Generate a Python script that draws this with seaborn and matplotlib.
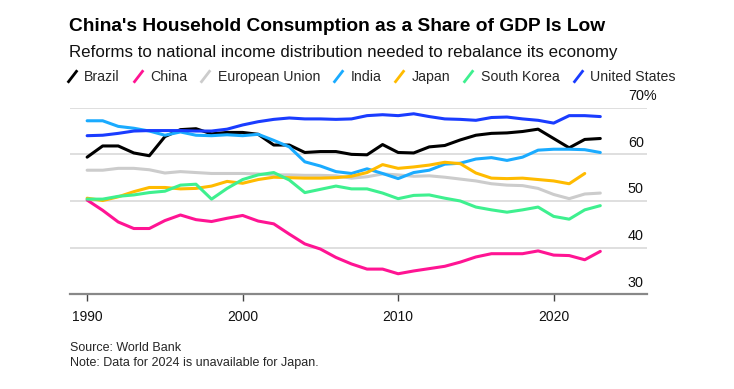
import matplotlib
matplotlib.use("Agg")
import matplotlib.pyplot as plt
import matplotlib.transforms as mtransforms
from matplotlib.lines import Line2D
import numpy as np
import pandas as pd
import seaborn as sns

# Household consumption, % of GDP
years = list(range(1990, 2024))

brazil = [59.4, 61.8, 61.8, 60.3, 59.7, 63.8, 65.3, 65.5, 64.4, 64.7,
          64.7, 64.3, 62.0, 62.0, 60.4, 60.6, 60.6, 60.0, 59.9, 62.1,
          60.4, 60.3, 61.6, 61.9, 63.1, 64.1, 64.5, 64.6, 64.9, 65.4,
          63.4, 61.4, 63.2, 63.4]
china = [50.2, 48.0, 45.5, 44.1, 44.1, 45.8, 47.0, 46.0, 45.6, 46.3,
         46.9, 45.7, 45.1, 42.9, 40.8, 39.7, 37.9, 36.5, 35.4, 35.4,
         34.4, 35.0, 35.5, 36.0, 36.9, 38.0, 38.7, 38.7, 38.7, 39.3,
         38.4, 38.3, 37.4, 39.2]
eu = [56.6, 56.6, 57.0, 57.0, 56.7, 56.0, 56.3, 56.1, 55.9, 55.9,
      55.9, 55.8, 55.6, 55.6, 55.5, 55.5, 55.4, 54.9, 55.2, 55.8,
      55.6, 55.3, 55.4, 55.1, 54.7, 54.3, 53.7, 53.4, 53.3, 52.7,
      51.4, 50.5, 51.5, 51.7]
india = [67.2, 67.2, 66.0, 65.6, 65.0, 64.1, 64.8, 64.1, 64.0, 64.2,
         64.0, 64.3, 63.0, 61.6, 58.4, 57.5, 56.3, 55.9, 56.9, 55.9,
         54.8, 56.1, 56.6, 57.9, 58.1, 59.0, 59.3, 58.7, 59.4, 60.9,
         61.1, 61.1, 61.0, 60.4]
japan = [50.6, 50.1, 50.9, 52.0, 52.9, 52.9, 52.6, 52.7, 53.2, 54.2,
         53.8, 54.6, 55.1, 55.0, 54.9, 54.9, 55.0, 55.3, 56.1, 57.8,
         57.0, 57.3, 57.7, 58.3, 58.0, 56.0, 54.9, 54.8, 54.9, 54.6,
         54.3, 53.7, 55.9, np.nan]
south_korea = [50.4, 50.4, 51.0, 51.3, 51.8, 52.1, 53.4, 53.6, 50.4, 52.7,
               54.6, 55.6, 56.1, 54.5, 51.8, 52.5, 53.2, 52.6, 52.6, 51.7,
               50.5, 51.2, 51.3, 50.6, 50.0, 48.7, 48.1, 47.6, 48.1, 48.7,
               46.7, 46.1, 48.1, 49.0]
united_states = [64.0, 64.1, 64.5, 65.0, 65.1, 65.1, 65.1, 65.0, 65.0, 65.4,
                 66.3, 67.0, 67.5, 67.8, 67.6, 67.6, 67.5, 67.6, 68.3, 68.5,
                 68.3, 68.7, 68.1, 67.6, 67.5, 67.3, 67.9, 68.0, 67.6, 67.3,
                 66.7, 68.3, 68.3, 68.1]

countries = ["Brazil", "China", "European Union", "India", "Japan",
             "South Korea", "United States"]
colors = ["#000000", "#ff1493", "#cccccc", "#1aabff", "#ffbb00",
          "#3ef08f", "#1a3cff"]
x_ticks = [1990, 2000, 2010, 2020]
y_ticks = [30, 40, 50, 60, 70]

series = [brazil, china, eu, india, japan, south_korea, united_states]
df = pd.DataFrame({
    "year": years * len(countries),
    "country": [c for c in countries for _ in years],
    "share": [v for s in series for v in s],
})
palette = dict(zip(countries, colors))

sns.set_theme(style="white")
plt.rcParams["font.family"] = ["Liberation Sans", "DejaVu Sans"]

fig = plt.figure(figsize=(7.34, 3.89), dpi=100)
ax = fig.add_axes([0.0954, 0.2435, 0.7860, 0.4796])

# Gridlines first so the lines sit over them
for v in y_ticks[1:]:
    ax.axhline(v, color="#dcdcdc", lw=1.3, zorder=0)

sns.lineplot(data=df, x="year", y="share", hue="country", palette=palette,
             estimator=None, errorbar=None, lw=2.2, legend=False, ax=ax)

ax.set_xlim(1988.9, 2026.0)
ax.set_ylim(30, 70)
ax.set_xlabel("")
ax.set_ylabel("")

for side in ["top", "right", "left"]:
    ax.spines[side].set_visible(False)
ax.spines["bottom"].set_color("#888888")
ax.spines["bottom"].set_linewidth(1.6)

ax.set_xticks(x_ticks)
ax.set_xticklabels([str(t) for t in x_ticks])
ax.tick_params(axis="x", bottom=True, direction="out", length=5, width=1.0,
               color="#444444", pad=6, labelsize=10, labelcolor="#111111")

ax.yaxis.tick_right()
ax.set_yticks(y_ticks)
ax.set_yticklabels([str(t) if t != 70 else "70%" for t in y_ticks])
ax.tick_params(axis="y", right=False, length=0, pad=-13.7, labelsize=10.4,
               labelcolor="#111111")
shift = mtransforms.ScaledTranslation(0, 0.13, fig.dpi_scale_trans)
for lab in ax.get_yticklabels():
    lab.set_transform(lab.get_transform() + shift)

# Titles
fig.text(0.094, 0.931, "China's Household Consumption as a Share of GDP Is Low",
         fontsize=13.8, fontweight="bold", va="center", ha="left", color="#000000")
fig.text(0.094, 0.865, "Reforms to national income distribution needed to rebalance its economy",
         fontsize=12.2, va="center", ha="left", color="#111111")

# Legend with slanted strokes as handles
handles = [Line2D([], [], color=c, marker=[(-1, -1.3), (1, 1.3)], linestyle="None",
                  markersize=9, markeredgewidth=2.0, markeredgecolor=c)
           for c in colors]
fig.legend(handles, countries, loc="center left", bbox_to_anchor=(0.082, 0.801),
           ncol=7, frameon=False, fontsize=10.2, handlelength=0.8,
           handletextpad=0.5, columnspacing=0.85, borderaxespad=0)

# Footer
fig.text(0.096, 0.106, "Source: World Bank", fontsize=9, va="center", ha="left")
fig.text(0.096, 0.068, "Note: Data for 2024 is unavailable for Japan.",
         fontsize=9, va="center", ha="left")

fig.savefig("out.png", dpi=100)
